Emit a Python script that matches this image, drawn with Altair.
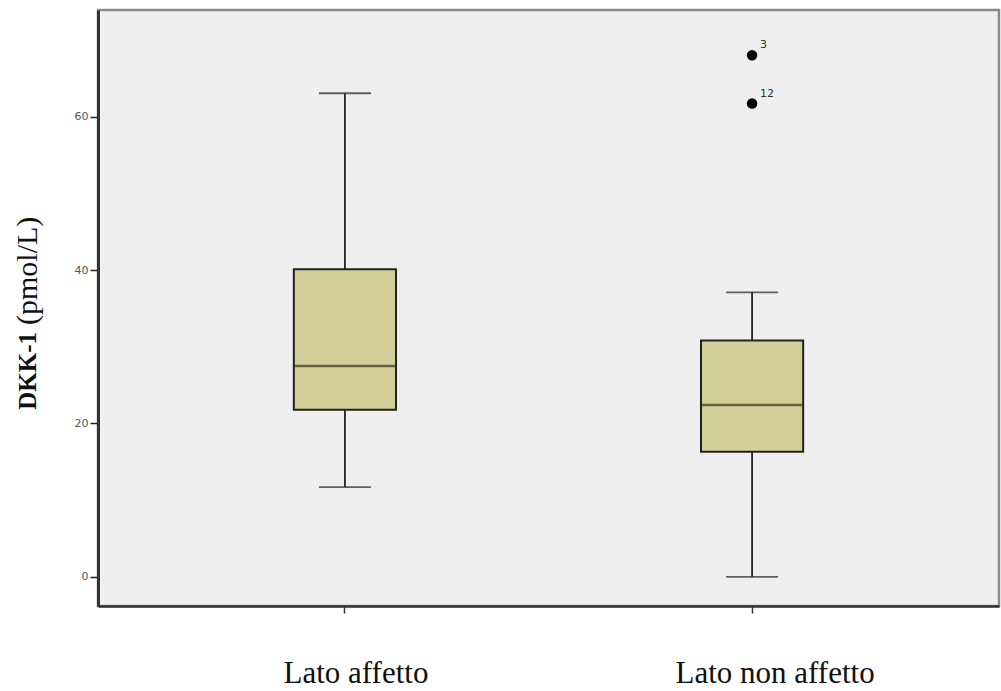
import altair as alt
import pandas as pd

# Box-plot summaries of DKK-1 (pmol/L) per side
groups = ["Lato affetto", "Lato non affetto"]
whisker_low = [11.7, 0.0]
q1 = [21.8, 16.3]
median = [27.5, 22.4]
q3 = [40.1, 30.8]
whisker_high = [63.05, 37.1]

# Outlying cases with their case numbers
outlier_group = ["Lato non affetto", "Lato non affetto"]
outlier_value = [68.0, 61.7]
outlier_case = ["3", "12"]

y_ticks = [0, 20, 40, 60]

boxes = pd.DataFrame({
    "group": groups,
    "lo": whisker_low,
    "q1": q1,
    "med": median,
    "q3": q3,
    "hi": whisker_high,
})
outliers = pd.DataFrame({"group": outlier_group, "value": outlier_value, "case": outlier_case})

W, H = 901, 596
BOX_FILL = "#d3cf98"
EDGE = "#222222"

x_scale = alt.Scale(domain=groups, paddingInner=0.749, paddingOuter=0.481)
y_scale = alt.Scale(domain=[-3.8, 73.9], nice=False, zero=False)

x_enc = alt.X(
    "group:N",
    scale=x_scale,
    sort=groups,
    axis=alt.Axis(
        title=None,
        labelAngle=0,
        labelFont="Liberation Serif",
        labelFontSize=31,
        labelColor="#111111",
        labelBaseline="alphabetic",
        labelPadding=69,
        labelLimit=0,
        labelOffset={"condition": {"test": "datum.value == 'Lato non affetto'", "value": 23}, "value": 11},
        tickSize=7,
        tickColor="#333333",
        domainColor="#333333",
        domainWidth=2.5,
        tickWidth=1.5,
        grid=False,
    ),
)
y_axis = alt.Axis(
    title=None,
    values=y_ticks,
    labelFont="DejaVu Sans",
    labelFontSize=11,
    labelColor="#555555",
    tickSize=8,
    tickColor="#222222",
    tickWidth=1.5,
    domainColor="#333333",
    domainWidth=3,
    grid=False,
    labelPadding=2,
)

base = alt.Chart(boxes)

whiskers = base.mark_rule(color=EDGE, strokeWidth=1.8).encode(
    x=x_enc,
    y=alt.Y("lo:Q", scale=y_scale, axis=y_axis),
    y2="hi:Q",
)

caps_low = base.mark_tick(color=EDGE, size=52, thickness=1.8).encode(
    x=alt.X("group:N", scale=x_scale, sort=groups), y=alt.Y("lo:Q", scale=y_scale)
)
caps_high = base.mark_tick(color=EDGE, size=52, thickness=1.8).encode(
    x=alt.X("group:N", scale=x_scale, sort=groups), y=alt.Y("hi:Q", scale=y_scale)
)

box = base.mark_bar(fill=BOX_FILL, stroke=EDGE, strokeWidth=2).encode(
    x=alt.X("group:N", scale=x_scale, sort=groups),
    y=alt.Y("q1:Q", scale=y_scale),
    y2="q3:Q",
)

med = base.mark_tick(color="#333322", size=102, thickness=2.5).encode(
    x=alt.X("group:N", scale=x_scale, sort=groups), y=alt.Y("med:Q", scale=y_scale)
)

out_pts = alt.Chart(outliers).mark_circle(color="#000000", size=110, opacity=1).encode(
    x=alt.X("group:N", scale=x_scale, sort=groups), y=alt.Y("value:Q", scale=y_scale)
)
out_lbl = alt.Chart(outliers).mark_text(
    font="DejaVu Sans", fontSize=11, color="#333333", align="left", dx=8, dy=-10
).encode(
    x=alt.X("group:N", scale=x_scale, sort=groups),
    y=alt.Y("value:Q", scale=y_scale),
    text="case:N",
)

# Y-axis title: bold analyte name followed by the unit in regular weight
title_df = pd.DataFrame({"t": ["DKK-1"]})
title_bold = alt.Chart(title_df).mark_text(
    font="Liberation Serif", fontSize=25, fontWeight="bold", angle=270,
    align="right", baseline="middle", color="#111111",
).encode(x=alt.value(-70), y=alt.value(322), text="t:N")
unit_df = pd.DataFrame({"t": ["(pmol/L)"]})
title_unit = alt.Chart(unit_df).mark_text(
    font="Liberation Serif", fontSize=30, angle=270,
    align="left", baseline="middle", color="#111111",
).encode(x=alt.value(-70), y=alt.value(315), text="t:N")

chart = (
    alt.layer(whiskers, caps_low, caps_high, box, med, out_pts, out_lbl, title_bold, title_unit)
    .properties(
        width=W,
        height=H,
        autosize=alt.AutoSizeParams(type="none"),
        padding={"left": 98, "top": 10, "right": 2, "bottom": 85},
        view=alt.ViewBackground(fill="#efefef", stroke="#8a8a8a", strokeWidth=2.5),
    )
    .configure(background="#ffffff")
)

chart.save("out.html", embed_options={"renderer": "svg", "actions": False})
